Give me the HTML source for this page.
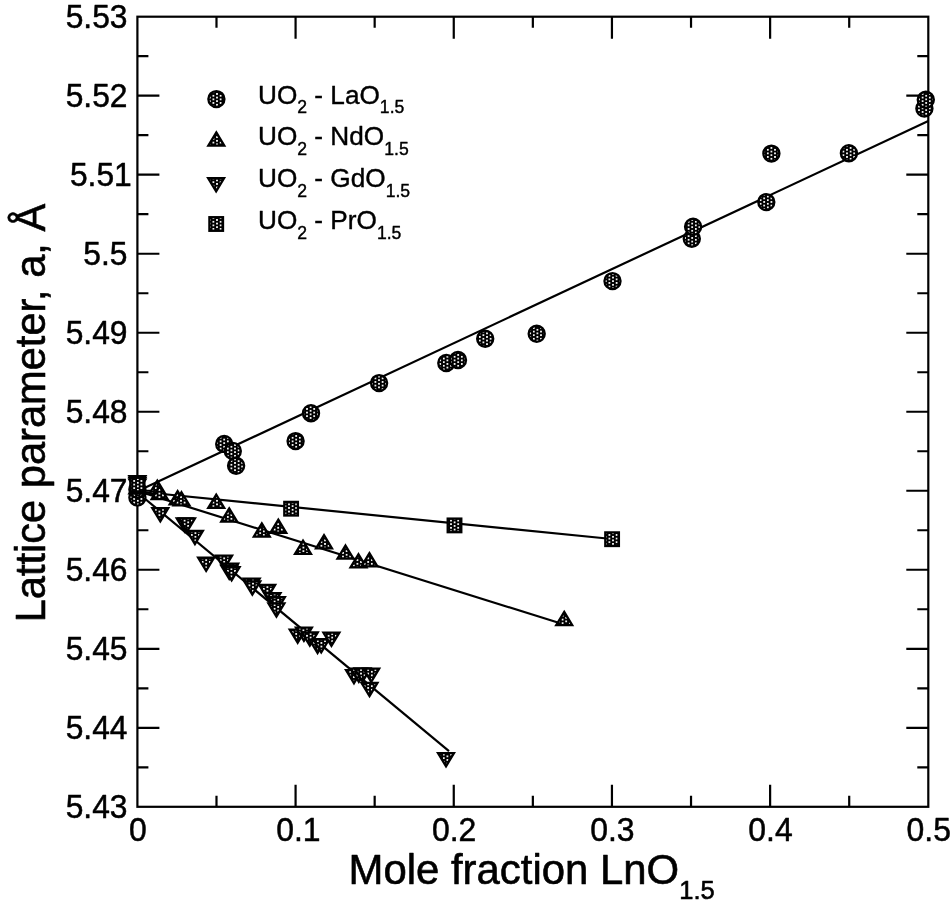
<!DOCTYPE html>
<html lang="en"><head><meta charset="utf-8"><title>Lattice parameter vs mole fraction</title>
<style>html,body{margin:0;padding:0;background:#fff}body{width:952px;height:905px;overflow:hidden}svg{display:block}text{font-family:"Liberation Sans",Arial,Helvetica,sans-serif;fill:#000}</style></head><body>
<svg width="952" height="905" viewBox="0 0 952 905">
<defs><pattern id="dots" patternUnits="userSpaceOnUse" x="216.12" y="93.08" width="7.2" height="3.6"><rect x="0" y="0" width="7.2" height="3.6" fill="#000"/><rect x="0" y="0" width="1.75" height="1.75" fill="#fff"/><rect x="3.6" y="1.8" width="1.75" height="1.75" fill="#fff"/></pattern></defs>
<rect width="952" height="905" fill="#fff"/>
<g fill="none" stroke="#000" stroke-width="2.2" stroke-linecap="butt">
<rect x="137.4" y="16.7" width="790.90" height="790.10"/>
<path d="M216.49 806.8v-11M216.49 16.7v11M295.58 806.8v-22M295.58 16.7v22M374.67 806.8v-11M374.67 16.7v11M453.76 806.8v-22M453.76 16.7v22M532.85 806.8v-11M532.85 16.7v11M611.94 806.8v-22M611.94 16.7v22M691.03 806.8v-11M691.03 16.7v11M770.12 806.8v-22M770.12 16.7v22M849.21 806.8v-11M849.21 16.7v11M137.4 767.30h11M928.3 767.30h-11M137.4 727.79h22M928.3 727.79h-22M137.4 688.29h11M928.3 688.29h-11M137.4 648.78h22M928.3 648.78h-22M137.4 609.27h11M928.3 609.27h-11M137.4 569.77h22M928.3 569.77h-22M137.4 530.26h11M928.3 530.26h-11M137.4 490.76h22M928.3 490.76h-22M137.4 451.26h11M928.3 451.26h-11M137.4 411.75h22M928.3 411.75h-22M137.4 372.25h11M928.3 372.25h-11M137.4 332.74h22M928.3 332.74h-22M137.4 293.23h11M928.3 293.23h-11M137.4 253.73h22M928.3 253.73h-22M137.4 214.22h11M928.3 214.22h-11M137.4 174.72h22M928.3 174.72h-22M137.4 135.22h11M928.3 135.22h-11M137.4 95.71h22M928.3 95.71h-22M137.4 56.21h11M928.3 56.21h-11"/>
</g>
<g font-size="32.6px" stroke="#000" stroke-width="0.5" stroke-linejoin="round">
<text transform="translate(137.80 841.2) scale(0.98 1.02)" text-anchor="middle">0</text>
<text transform="translate(298.38 841.2) scale(0.98 1.02)" text-anchor="middle">0.1</text>
<text transform="translate(454.16 841.2) scale(0.98 1.02)" text-anchor="middle">0.2</text>
<text transform="translate(612.34 841.2) scale(0.98 1.02)" text-anchor="middle">0.3</text>
<text transform="translate(770.52 841.2) scale(0.98 1.02)" text-anchor="middle">0.4</text>
<text transform="translate(928.70 841.2) scale(0.98 1.02)" text-anchor="middle">0.5</text>
<text transform="translate(127.5 818.20) scale(0.975 1.02)" text-anchor="end">5.43</text>
<text transform="translate(127.5 739.19) scale(0.975 1.02)" text-anchor="end">5.44</text>
<text transform="translate(127.5 660.18) scale(0.975 1.02)" text-anchor="end">5.45</text>
<text transform="translate(127.5 581.17) scale(0.975 1.02)" text-anchor="end">5.46</text>
<text transform="translate(127.5 502.16) scale(0.975 1.02)" text-anchor="end">5.47</text>
<text transform="translate(127.5 423.15) scale(0.975 1.02)" text-anchor="end">5.48</text>
<text transform="translate(127.5 344.14) scale(0.975 1.02)" text-anchor="end">5.49</text>
<text transform="translate(127.5 265.13) scale(0.975 1.02)" text-anchor="end">5.5</text>
<text transform="translate(131.8 186.12) scale(0.975 1.02)" text-anchor="end">5.51</text>
<text transform="translate(127.5 107.11) scale(0.975 1.02)" text-anchor="end">5.52</text>
<text transform="translate(127.5 28.10) scale(0.975 1.02)" text-anchor="end">5.53</text>
</g>
<text x="348.5" y="884.1" font-size="41.9px" stroke="#000" stroke-width="0.6" stroke-linejoin="round">Mole fraction LnO<tspan font-size="25.5px" x="679.3" dy="14.7">1.5</tspan></text>
<text transform="translate(45.4 622.3) rotate(-90)" font-size="41.6px" stroke="#000" stroke-width="0.6" stroke-linejoin="round">Lattice parameter, a, Å</text>
<g fill="none" stroke="#000" stroke-width="2.2">
<line x1="137.4" y1="491.3" x2="928.3" y2="121.0"/>
<line x1="137.4" y1="491.0" x2="564.2" y2="624.5"/>
<line x1="137.4" y1="492.5" x2="449.0" y2="751.1"/>
<line x1="137.4" y1="491.5" x2="612.0" y2="539.0"/>
</g>
<g fill="url(#dots)" stroke="#000" stroke-width="2.3" stroke-linejoin="miter">
<circle cx="137.40" cy="497.60" r="8.05"/>
<circle cx="137.40" cy="489.50" r="8.05"/>
<circle cx="224.20" cy="443.90" r="8.05"/>
<circle cx="232.80" cy="450.90" r="8.05"/>
<circle cx="236.10" cy="465.80" r="8.05"/>
<circle cx="295.60" cy="441.10" r="8.05"/>
<circle cx="311.00" cy="413.20" r="8.05"/>
<circle cx="379.10" cy="383.10" r="8.05"/>
<circle cx="446.30" cy="363.00" r="8.05"/>
<circle cx="458.00" cy="360.00" r="8.05"/>
<circle cx="485.20" cy="338.70" r="8.05"/>
<circle cx="536.70" cy="333.80" r="8.05"/>
<circle cx="612.50" cy="281.10" r="8.05"/>
<circle cx="691.80" cy="238.70" r="8.05"/>
<circle cx="693.10" cy="226.80" r="8.05"/>
<circle cx="766.30" cy="202.10" r="8.05"/>
<circle cx="771.40" cy="153.60" r="8.05"/>
<circle cx="848.90" cy="153.20" r="8.05"/>
<circle cx="924.40" cy="108.60" r="8.05"/>
<circle cx="925.80" cy="99.80" r="8.05"/>
<path d="M137.40 480.30L145.36 493.45L129.44 493.45Z"/>
<path d="M157.30 480.70L165.26 493.85L149.34 493.85Z"/>
<path d="M159.60 486.00L167.56 499.15L151.64 499.15Z"/>
<path d="M177.60 491.20L185.56 504.35L169.64 504.35Z"/>
<path d="M181.50 492.30L189.46 505.45L173.54 505.45Z"/>
<path d="M216.20 494.70L224.16 507.85L208.24 507.85Z"/>
<path d="M229.20 508.40L237.16 521.55L221.24 521.55Z"/>
<path d="M261.80 523.40L269.76 536.55L253.84 536.55Z"/>
<path d="M278.30 519.60L286.26 532.75L270.34 532.75Z"/>
<path d="M303.00 540.70L310.96 553.85L295.04 553.85Z"/>
<path d="M324.00 535.20L331.96 548.35L316.04 548.35Z"/>
<path d="M345.50 545.50L353.46 558.65L337.54 558.65Z"/>
<path d="M358.50 554.30L366.46 567.45L350.54 567.45Z"/>
<path d="M369.40 553.20L377.36 566.35L361.44 566.35Z"/>
<path d="M564.20 611.90L572.16 625.05L556.24 625.05Z"/>
<path d="M137.40 489.40L145.36 476.25L129.44 476.25Z"/>
<path d="M137.40 491.10L145.36 477.95L129.44 477.95Z"/>
<path d="M137.40 492.80L145.36 479.65L129.44 479.65Z"/>
<path d="M160.30 521.30L168.26 508.15L152.34 508.15Z"/>
<path d="M184.70 531.60L192.66 518.45L176.74 518.45Z"/>
<path d="M187.00 531.60L194.96 518.45L179.04 518.45Z"/>
<path d="M194.90 544.10L202.86 530.95L186.94 530.95Z"/>
<path d="M206.10 570.90L214.06 557.75L198.14 557.75Z"/>
<path d="M224.10 568.80L232.06 555.65L216.14 555.65Z"/>
<path d="M230.20 576.80L238.16 563.65L222.24 563.65Z"/>
<path d="M229.20 578.80L237.16 565.65L221.24 565.65Z"/>
<path d="M231.60 580.30L239.56 567.15L223.64 567.15Z"/>
<path d="M251.70 591.70L259.66 578.55L243.74 578.55Z"/>
<path d="M252.30 594.60L260.26 581.45L244.34 581.45Z"/>
<path d="M267.20 598.10L275.16 584.95L259.24 584.95Z"/>
<path d="M272.50 606.40L280.46 593.25L264.54 593.25Z"/>
<path d="M276.90 610.40L284.86 597.25L268.94 597.25Z"/>
<path d="M276.40 616.60L284.36 603.45L268.44 603.45Z"/>
<path d="M297.70 642.70L305.66 629.55L289.74 629.55Z"/>
<path d="M303.90 640.80L311.86 627.65L295.94 627.65Z"/>
<path d="M309.80 645.60L317.76 632.45L301.84 632.45Z"/>
<path d="M317.60 653.00L325.56 639.85L309.64 639.85Z"/>
<path d="M321.20 652.40L329.16 639.25L313.24 639.25Z"/>
<path d="M331.40 645.80L339.36 632.65L323.44 632.65Z"/>
<path d="M354.00 683.20L361.96 670.05L346.04 670.05Z"/>
<path d="M358.80 681.80L366.76 668.65L350.84 668.65Z"/>
<path d="M362.50 681.60L370.46 668.45L354.54 668.45Z"/>
<path d="M371.20 681.80L379.16 668.65L363.24 668.65Z"/>
<path d="M369.50 696.10L377.46 682.95L361.54 682.95Z"/>
<path d="M446.00 766.30L453.96 753.15L438.04 753.15Z"/>
<rect x="130.6" y="479.4" width="13.6" height="13.6"/>
<rect x="130.6" y="477.8" width="13.6" height="13.6"/>
<rect x="284.3" y="501.9" width="13.6" height="13.6"/>
<rect x="447.7" y="518.6" width="13.6" height="13.6"/>
<rect x="605.3" y="532.4" width="13.6" height="13.6"/>
<circle cx="216.40" cy="99.10" r="8.05"/>
<path d="M216.30 132.40L224.26 145.55L208.34 145.55Z"/>
<path d="M216.10 191.40L224.06 178.25L208.14 178.25Z"/>
<rect x="209.4" y="217.2" width="13.6" height="13.6"/>
</g>
<g font-size="26.2px" stroke="#000" stroke-width="0.4" stroke-linejoin="round">
<text x="258" y="103.6">UO<tspan font-size="17.6px" dy="9.8">2</tspan><tspan dy="-9.8"> - LaO</tspan><tspan font-size="17.6px" dy="9.8">1.5</tspan></text>
<text x="258" y="145.3">UO<tspan font-size="17.6px" dy="9.8">2</tspan><tspan dy="-9.8"> - NdO</tspan><tspan font-size="17.6px" dy="9.8">1.5</tspan></text>
<text x="258" y="187.2">UO<tspan font-size="17.6px" dy="9.8">2</tspan><tspan dy="-9.8"> - GdO</tspan><tspan font-size="17.6px" dy="9.8">1.5</tspan></text>
<text x="258" y="228.8">UO<tspan font-size="17.6px" dy="9.8">2</tspan><tspan dy="-9.8"> - PrO</tspan><tspan font-size="17.6px" dy="9.8">1.5</tspan></text>
</g>
</svg></body></html>
